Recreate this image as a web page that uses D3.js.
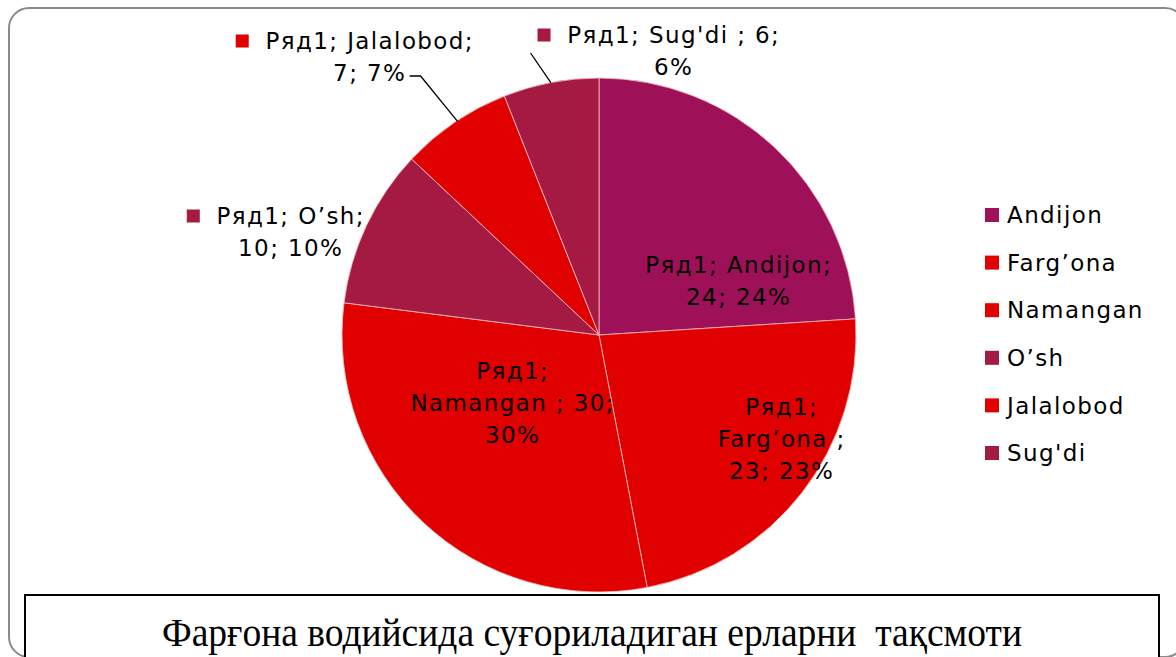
<!DOCTYPE html>
<html>
<head>
<meta charset="utf-8">
<script src="https://cdn.jsdelivr.net/npm/d3@7"></script>
<style>
  html, body { margin: 0; padding: 0; background: #fff; }
  svg { display: block; }
</style>
</head>
<body>
<svg id="chart" width="1176" height="657"></svg>
<script>
const seriesName = "Ряд1";
const categories = ["Andijon", "Farg’ona", "Namangan", "O’sh", "Jalalobod", "Sug'di"];
const labelNames = ["Andijon", "Farg’ona ", "Namangan ", "O’sh", "Jalalobod", "Sug'di "];
const values = [24, 23, 30, 10, 7, 6];
const colors = ["#9e1158", "#e00000", "#e00000", "#a51a42", "#e00000", "#a51a42"];
const title = "Фарғона водийсида суғориладиган ерларни  тақсмоти";

// label layout (centre offsets from pie centre), kept apart from the data
const labelLayout = [
  { dx: 139, dy: -54, lines: (n, v, p) => [`${seriesName}; ${n};`, `${v}; ${p}`] },
  { dx: 182, dy: 104, lines: (n, v, p) => [`${seriesName};`, `${n};`, `${v}; ${p}`] },
  { dx: -87, dy: 68, lines: (n, v, p) => [`${seriesName};`, `${n}; ${v};`, `${p}`] },
  { dx: -309, dy: -103, lines: (n, v, p) => [`${seriesName}; ${n};`, `${v}; ${p}`], swatch: true },
  { dx: -230, dy: -278, lines: (n, v, p) => [`${seriesName}; ${n};`, `${v}; ${p}`], swatch: true, leader: true },
  { dx: 74, dy: -284, lines: (n, v, p) => [`${seriesName}; ${n}; ${v};`, `${p}`], swatch: true, leader: true }
];

const svg = d3.select("#chart");
const cx = 599, cy = 335, R = 257;
const font = "'DejaVu Sans', sans-serif";
const fs = 23, ls = 1.4, lh = 32;

// outer rounded frame
svg.append("rect")
  .attr("x", 9).attr("y", 8).attr("width", 1176).attr("height", 649)
  .attr("rx", 20).attr("ry", 20)
  .attr("fill", "none").attr("stroke", "#8a8a8a").attr("stroke-width", 2);

const total = d3.sum(values);
const pie = d3.pie().sort(null).value(d => d)(values);
const arc = d3.arc().innerRadius(0).outerRadius(R);

const g = svg.append("g").attr("transform", `translate(${cx},${cy})`);
g.selectAll("path.slice")
  .data(pie)
  .join("path")
  .attr("class", "slice")
  .attr("d", arc)
  .attr("fill", (d, i) => colors[i])
  .attr("stroke", "#f6c0c0")
  .attr("stroke-width", 0.8);

const fmtPct = v => Math.round(v / total * 100) + "%";

pie.forEach((d, i) => {
  const L = labelLayout[i];
  const lines = L.lines(labelNames[i], values[i], fmtPct(values[i]));
  const lx = L.dx, ly = L.dy;
  const n = lines.length;
  const t = g.append("text")
    .attr("font-family", font)
    .attr("font-size", fs)
    .attr("letter-spacing", ls)
    .attr("fill", "#000")
    .attr("text-anchor", "middle");
  lines.forEach((s, k) => {
    t.append("tspan")
      .attr("x", lx + ls / 2)
      .attr("y", ly + (k - (n - 1) / 2) * lh + fs * 0.36)
      .text(s);
  });
  const tsp = t.selectAll("tspan").nodes();
  const y0 = ly - (n - 1) / 2 * lh;
  const w0 = tsp[0].getComputedTextLength();
  if (L.swatch) {
    g.append("rect")
      .attr("x", lx - w0 / 2 - 29).attr("y", y0 - 6.5)
      .attr("width", 13).attr("height", 13)
      .attr("fill", colors[i]);
  }
  if (L.leader) {
    const mid = (d.startAngle + d.endAngle) / 2;
    const ex = Math.sin(mid) * R, ey = -Math.cos(mid) * R;
    let pts;
    if (i === 4) {
      const wl = tsp[n - 1].getComputedTextLength();
      const yl = ly + (n - 1) / 2 * lh + 3;
      pts = [[lx + wl / 2 + 4, yl], [lx + wl / 2 + 15, yl], [ex + 3, ey - 1]];
    } else {
      pts = [[lx - w0 / 2 - 36, y0 + 18], [ex, ey]];
    }
    g.append("path")
      .attr("d", d3.line()(pts))
      .attr("fill", "none").attr("stroke", "#000").attr("stroke-width", 1.3);
  }
});

// legend
const legend = svg.append("g").attr("transform", "translate(985,215)");
const lyScale = d3.scalePoint().domain(categories).range([0, 47.6 * 5]);
categories.forEach((c, i) => {
  const y = lyScale(c);
  legend.append("rect").attr("x", 0).attr("y", y - 7).attr("width", 14).attr("height", 14).attr("fill", colors[i]);
  legend.append("text").attr("x", 22).attr("y", y + fs * 0.36)
    .attr("font-family", font).attr("font-size", fs).attr("letter-spacing", ls)
    .attr("fill", "#000").text(c);
});

// title box
svg.append("rect")
  .attr("x", 25).attr("y", 595).attr("width", 1134).attr("height", 80)
  .attr("fill", "#fff").attr("stroke", "#000").attr("stroke-width", 2);
svg.append("text")
  .attr("x", 592).attr("y", 646)
  .attr("text-anchor", "middle")
  .attr("font-family", "'Liberation Serif', 'Times New Roman', serif")
  .attr("font-size", 40)
  .attr("xml:space", "preserve")
  .style("white-space", "pre")
  .attr("textLength", 860).attr("lengthAdjust", "spacingAndGlyphs")
  .attr("fill", "#000")
  .text(title);
</script>
</body>
</html>
